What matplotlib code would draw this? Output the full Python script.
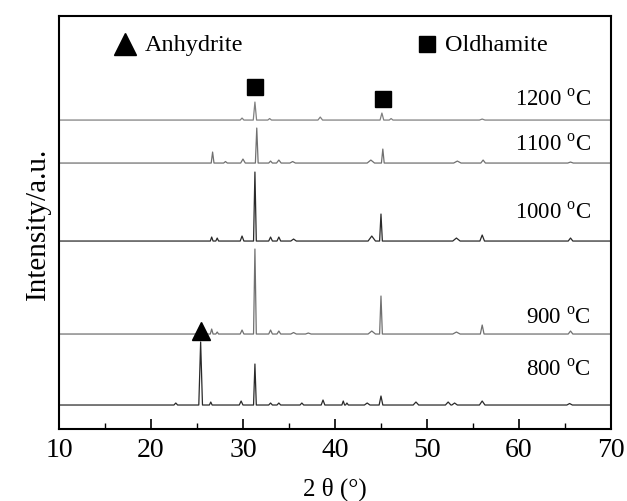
import numpy as np
import matplotlib
matplotlib.use("Agg")
import matplotlib.pyplot as plt

plt.rcParams['font.family'] = ['Liberation Serif', 'DejaVu Serif']
plt.rcParams['mathtext.fontset'] = 'custom'
plt.rcParams['mathtext.rm'] = 'Liberation Serif'

# peaks: (2theta, height above baseline, half width)
peaks_800 = [(22.7, 2, 0.2), (25.4, 63, 0.2), (26.5, 3, 0.15), (29.8, 4, 0.2),
             (31.3, 41, 0.15), (33.0, 2, 0.2), (33.9, 2, 0.2), (36.4, 2, 0.2),
             (38.7, 5, 0.2), (40.9, 4, 0.15), (41.3, 2, 0.15), (43.5, 2, 0.3),
             (45.0, 9, 0.2), (48.8, 3, 0.3), (52.3, 3, 0.3), (53.0, 2, 0.3),
             (56.0, 4, 0.3), (65.5, 1.5, 0.3)]
peaks_900 = [(26.6, 5, 0.15), (27.2, 2, 0.15), (29.9, 4, 0.2), (31.3, 85, 0.15),
             (33.0, 4, 0.2), (33.9, 3, 0.2), (35.5, 1.5, 0.3), (37.1, 1, 0.3),
             (44.0, 3, 0.4), (45.0, 38, 0.15), (53.2, 2, 0.4), (56.0, 9, 0.2),
             (65.6, 3, 0.25)]
peaks_1000 = [(26.6, 4, 0.15), (27.2, 3, 0.15), (29.9, 5, 0.2), (31.3, 69, 0.15),
              (33.0, 4, 0.2), (33.9, 4, 0.2), (35.5, 2, 0.3), (44.0, 5, 0.4),
              (45.0, 27, 0.15), (53.2, 3, 0.4), (56.0, 6, 0.25), (65.6, 3, 0.25)]
peaks_1100 = [(26.7, 11, 0.15), (28.1, 1.5, 0.2), (30.0, 4, 0.25), (31.5, 35, 0.15),
              (33.0, 2, 0.2), (33.9, 3, 0.25), (35.4, 1.5, 0.3), (43.9, 3, 0.4),
              (45.2, 14, 0.15), (53.3, 2, 0.4), (56.1, 3, 0.25), (65.6, 1, 0.3)]
peaks_1200 = [(29.9, 2, 0.2), (31.3, 18, 0.18), (32.9, 1.5, 0.2), (38.4, 3, 0.25),
              (45.1, 7, 0.2), (46.1, 1.5, 0.2), (56.0, 1, 0.3)]

series_peaks = [peaks_800, peaks_900, peaks_1000, peaks_1100, peaks_1200]
baselines = [24, 95, 188, 266, 309]
temps = ["800", "900", "1000", "1100", "1200"]
label_y = [60, 112, 217, 285, 330]
line_colors = ["#2a2a2a", "#707070", "#2a2a2a", "#707070", "#808080"]

anhydrite_pos = [(25.4, 98)]
oldhamite_pos = [(31.35, 342), (45.25, 330)]


def profile(peaks, base):
    xs = [10.0]
    ys = [base]
    for p, h, w in sorted(peaks):
        xs += [p - w, p, p + w]
        ys += [base, base + h, base]
    xs.append(70.0)
    ys.append(base)
    return xs, ys


fig = plt.figure(figsize=(6.27, 5.02), dpi=100)
ax = fig.add_axes([0.094, 0.1434, 0.8805, 0.8226])

for pk, b, c in zip(series_peaks, baselines, line_colors):
    xs, ys = profile(pk, b)
    ax.plot(xs, ys, color=c, lw=0.9)

for t, y in zip(temps, label_y):
    ax.text(67.8, y, t + r" $^{\mathrm{o}}$C", ha='right', va='center', fontsize=16.5)

ax.plot([p[0] for p in anhydrite_pos], [p[1] for p in anhydrite_pos], '^',
        color='black', markersize=12.5)
ax.plot([p[0] for p in oldhamite_pos], [p[1] for p in oldhamite_pos], 's',
        color='black', markersize=12)

# legend drawn as in the original figure
ax.plot([17.2], [385], '^', color='black', markersize=16.5)
ax.text(19.3, 385, "Anhydrite", ha='left', va='center', fontsize=17.5)
ax.plot([50.0], [385], 's', color='black', markersize=12)
ax.text(52.0, 385, "Oldhamite", ha='left', va='center', fontsize=17.5)

ax.set_xlim(10, 70)
ax.set_ylim(0, 413)
ax.set_xticks(np.arange(10, 71, 10))
ax.set_xticks(np.arange(15, 70, 10), minor=True)
ax.set_yticks([])
ax.tick_params(axis='x', which='major', direction='in', length=7, width=1.2,
               labelsize=20, pad=6)
ax.tick_params(axis='x', which='minor', direction='in', length=4, width=1.0)
for s in ax.spines.values():
    s.set_linewidth(1.5)

ax.set_xlabel("2 θ (°)", fontsize=18, labelpad=10)
ax.set_ylabel("Intensity/a.u.", fontsize=21, labelpad=6)

fig.savefig("out.png", dpi=100)
